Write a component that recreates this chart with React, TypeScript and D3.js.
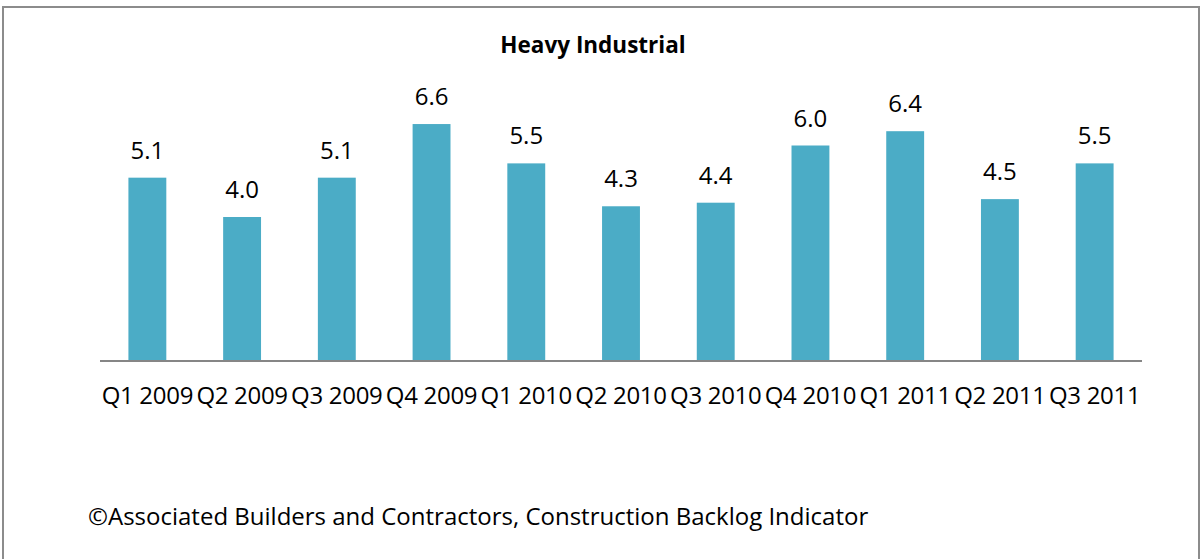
import React, { useRef, useEffect } from 'react';
import * as d3 from 'd3';

const categories = ['Q1 2009', 'Q2 2009', 'Q3 2009', 'Q4 2009', 'Q1 2010', 'Q2 2010', 'Q3 2010', 'Q4 2010', 'Q1 2011', 'Q2 2011', 'Q3 2011'];
const values = [5.1, 4.0, 5.1, 6.6, 5.5, 4.3, 4.4, 6.0, 6.4, 4.5, 5.5];
const title = 'Heavy Industrial';
const footer = '\u00A9Associated Builders and Contractors, Construction Backlog Indicator';

const FONT = '"Open Sans", "Liberation Sans", sans-serif';

function App() {
  const ref = useRef<SVGSVGElement | null>(null);

  useEffect(() => {
    if (!ref.current) return;
    const svg = d3.select(ref.current);
    svg.selectAll('*').remove();

    const baseline = 360;

    // outer frame
    svg.append('rect')
      .attr('x', 3).attr('y', 7)
      .attr('width', 1196).attr('height', 560)
      .attr('fill', 'white')
      .attr('stroke', '#8c8c8c')
      .attr('stroke-width', 2);

    const x = d3.scaleBand()
      .domain(categories)
      .range([100, 1142])
      .paddingInner(0.6)
      .paddingOuter(0.3);

    const y = d3.scaleLinear()
      .domain([0, 7])
      .range([baseline, baseline - 7 * 35.75]);

    svg.append('text')
      .attr('x', 593).attr('y', 53)
      .attr('text-anchor', 'middle')
      .style('font-family', FONT)
      .style('font-weight', 'bold')
      .style('font-size', '22.5px')
      .text(title);

    svg.selectAll('rect.bar')
      .data(values)
      .enter().append('rect')
      .attr('class', 'bar')
      .attr('x', (_, i) => x(categories[i]) as number)
      .attr('y', d => y(d))
      .attr('width', x.bandwidth())
      .attr('height', d => baseline - y(d))
      .attr('fill', '#4bacc6');

    svg.selectAll('text.val')
      .data(values)
      .enter().append('text')
      .attr('class', 'val')
      .attr('x', (_, i) => (x(categories[i]) as number) + x.bandwidth() / 2)
      .attr('y', d => y(d) - 19)
      .attr('text-anchor', 'middle')
      .style('font-family', FONT)
      .style('font-size', '24px')
      .text(d => d.toFixed(1));

    svg.append('line')
      .attr('x1', 100).attr('x2', 1142)
      .attr('y1', baseline + 1).attr('y2', baseline + 1)
      .attr('stroke', '#868686')
      .attr('stroke-width', 2);

    svg.selectAll('text.cat')
      .data(categories)
      .enter().append('text')
      .attr('class', 'cat')
      .attr('x', d => (x(d) as number) + x.bandwidth() / 2)
      .attr('y', 404)
      .attr('text-anchor', 'middle')
      .style('font-family', FONT)
      .style('font-size', '24px')
      .style('letter-spacing', '-0.3px')
      .text(d => d);

    svg.append('text')
      .attr('x', 88).attr('y', 525)
      .style('font-family', FONT)
      .style('font-size', '24px')
      .text(footer);
  }, []);

  return (
    <svg ref={ref} width={1204} height={559} style={{ position: 'absolute', left: 0, top: 0, background: 'white' }} />
  );
}

export default App;
